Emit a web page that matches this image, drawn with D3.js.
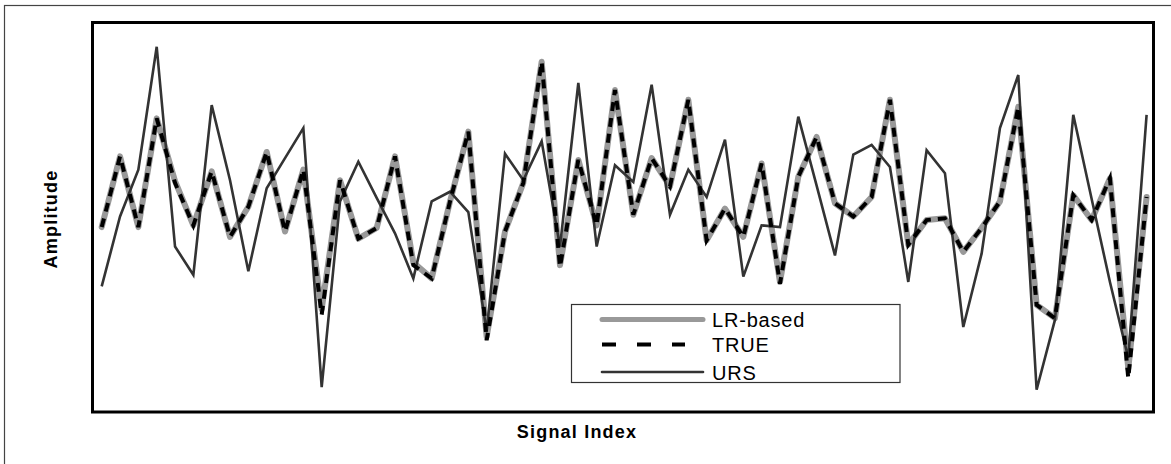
<!DOCTYPE html>
<html>
<head>
<meta charset="utf-8">
<script src="https://cdn.jsdelivr.net/npm/d3@7"></script>
<style>
  body { margin: 0; background: #fff; }
  svg { display: block; font-family: Arial, "Liberation Sans", sans-serif; }
</style>
</head>
<body>
<div id="chart"></div>
<script>
// signal values (arbitrary amplitude units)
var trueVals = [-0.12, 0.68, -0.12, 1.11, 0.38, -0.10, 0.51, -0.23, 0.11, 0.73,
  -0.17, 0.53, -1.11, 0.41, -0.25, -0.13, 0.68, -0.55, -0.70, 0.17,
  0.96, -1.40, -0.17, 0.38, 1.75, -0.57, 0.64, -0.10, 1.43, 0.02,
  0.66, 0.34, 1.32, -0.27, 0.09, -0.23, 0.60, -0.76, 0.45, 0.90,
  0.15, 0.00, 0.22, 1.32, -0.32, -0.04, -0.02, -0.40, -0.13, 0.17,
  1.24, -1.00, -1.15, 0.24, -0.04, 0.43, -1.83, 0.22];

var lrVals = [-0.12, 0.68, -0.12, 1.11, 0.40, -0.10, 0.51, -0.23, 0.11, 0.73,
  -0.17, 0.53, -1.05, 0.41, -0.25, -0.13, 0.68, -0.52, -0.70, 0.17,
  0.96, -1.36, -0.17, 0.38, 1.75, -0.55, 0.64, -0.10, 1.43, 0.02,
  0.66, 0.34, 1.32, -0.27, 0.09, -0.23, 0.60, -0.74, 0.45, 0.90,
  0.15, 0.00, 0.22, 1.32, -0.32, -0.04, -0.02, -0.40, -0.13, 0.17,
  1.24, -1.00, -1.15, 0.24, -0.04, 0.43, -1.72, 0.22];

var ursVals = [-0.79, 0.00, 0.53, 1.92, -0.34, -0.66, 1.26, 0.41, -0.62, 0.32,
  0.66, 1.00, -1.93, 0.17, 0.62, 0.21, -0.19, -0.70, 0.17, 0.28,
  0.05, -1.30, 0.71, 0.41, 0.85, -0.34, 1.51, -0.34, 0.58, 0.39,
  1.49, 0.02, 0.53, 0.22, 0.87, -0.68, -0.10, -0.12, 1.13, 0.35,
  -0.44, 0.70, 0.81, 0.56, -0.74, 0.75, 0.49, -1.25, -0.42, 1.00,
  1.60, -1.96, -1.17, 1.15, 0.20, -0.74, -1.60, 1.15];

var legendNames = ["LR-based", "TRUE", "URS"];

var width = 1171, height = 464;
var frame = {left: 92.5, top: 22.5, right: 1153.5, bottom: 412};

var svg = d3.select("#chart")
  .append("svg")
    .attr("width", width)
    .attr("height", height);

// outer border
svg.append("rect")
  .attr("x", 4.5).attr("y", 5.5)
  .attr("width", 1170).attr("height", 470)
  .attr("fill", "none")
  .attr("stroke", "#444")
  .attr("stroke-width", 1.2);

var x = d3.scaleLinear()
  .domain([0, trueVals.length - 1])
  .range([101.7, 1146.6]);

var y = d3.scaleLinear()
  .domain([-2.2, 2.2])
  .range([411, 22]);

var line = d3.line()
  .x(function(d, i) { return x(i); })
  .y(function(d) { return y(d); });

// LR-based (grey, thick)
svg.append("path")
  .datum(lrVals)
  .attr("d", line)
  .attr("fill", "none")
  .attr("stroke", "#999")
  .attr("stroke-width", 6)
  .attr("stroke-linejoin", "round")
  .attr("stroke-linecap", "round");

// URS (dark, thin)
svg.append("path")
  .datum(ursVals)
  .attr("d", line)
  .attr("fill", "none")
  .attr("stroke", "#333")
  .attr("stroke-width", 2.6)
  .attr("stroke-linejoin", "miter");

// TRUE (black dashed)
svg.append("path")
  .datum(trueVals)
  .attr("d", line)
  .attr("fill", "none")
  .attr("stroke", "#000")
  .attr("stroke-width", 4)
  .attr("stroke-dasharray", "9,7");

// plot frame
svg.append("rect")
  .attr("x", frame.left).attr("y", frame.top)
  .attr("width", frame.right - frame.left)
  .attr("height", frame.bottom - frame.top)
  .attr("fill", "none")
  .attr("stroke", "#000")
  .attr("stroke-width", 3);

// axis titles
svg.append("text")
  .attr("x", 577).attr("y", 438)
  .attr("text-anchor", "middle")
  .attr("font-size", "18px")
  .attr("font-weight", "bold")
  .attr("letter-spacing", "1.2px")
  .text("Signal Index");

svg.append("text")
  .attr("transform", "translate(57,219) rotate(-90)")
  .attr("text-anchor", "middle")
  .attr("font-size", "18px")
  .attr("font-weight", "bold")
  .attr("letter-spacing", "1.2px")
  .text("Amplitude");

// legend
var legend = svg.append("g");
legend.append("rect")
  .attr("x", 571.5).attr("y", 304.5)
  .attr("width", 328.5).attr("height", 78)
  .attr("fill", "#fff")
  .attr("stroke", "#333")
  .attr("stroke-width", 1.2);

var rowY = [319.5, 344.5, 372];
var lineStyles = [
  {stroke: "#999", w: 5, dash: null, cap: "round"},
  {stroke: "#000", w: 4, dash: "14,21", cap: "butt"},
  {stroke: "#333", w: 2.6, dash: null, cap: "round"}
];

legendNames.forEach(function(name, i) {
  var s = lineStyles[i];
  legend.append("line")
    .attr("x1", 602).attr("x2", i == 1 ? 685 : 703)
    .attr("y1", rowY[i]).attr("y2", rowY[i])
    .attr("stroke", s.stroke)
    .attr("stroke-width", s.w)
    .attr("stroke-dasharray", s.dash)
    .attr("stroke-linecap", s.cap);
  legend.append("text")
    .attr("x", 712).attr("y", rowY[i] + 7.5)
    .attr("font-size", "20px")
    .attr("letter-spacing", "0.8px")
    .text(name);
});
</script>
</body>
</html>
